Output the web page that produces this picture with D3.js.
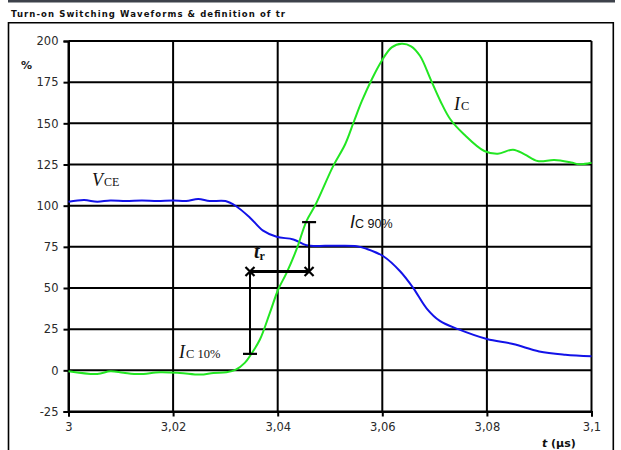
<!DOCTYPE html>
<html>
<head>
<meta charset="utf-8">
<script src="https://cdn.jsdelivr.net/npm/d3@7/dist/d3.min.js"></script>
<style>
  html, body { margin: 0; padding: 0; background: #fff; }
  svg { display: block; }
</style>
</head>
<body>
<svg id="chart" width="621" height="450"></svg>
<script>
// Time axis (µs) and the two normalized waveforms (% of nominal)
const xTicks = [3, 3.02, 3.04, 3.06, 3.08, 3.1];
const xTickLabels = ["3", "3,02", "3,04", "3,06", "3,08", "3,1"];
const yTicks = [-25, 0, 25, 50, 75, 100, 125, 150, 175, 200];
const yTickLabels = ["-25", "0", "25", "50", "75", "100", "125", "150", "175", "200"];

// Collector-emitter voltage V_CE
const vceTime = [3.000, 3.003, 3.0055, 3.008, 3.011, 3.014, 3.017, 3.020, 3.0225, 3.0248,
  3.027, 3.030, 3.032, 3.0347, 3.0372, 3.0398, 3.043, 3.0455, 3.0494, 3.0551,
  3.057, 3.0602, 3.0634, 3.0659, 3.0685, 3.071, 3.0745, 3.080, 3.085, 3.090, 3.095, 3.100];
const vceValue = [102.4, 103.4, 102.4, 103.2, 102.8, 103.2, 102.9, 103.2, 102.8, 104.0,
  102.8, 102.8, 99.8, 92.7, 84.8, 81.1, 79.5, 76.0, 75.6, 75.4,
  73.8, 69.3, 60.2, 50.1, 37.5, 30.0, 25.0, 19.0, 16.0, 11.5, 9.5, 8.5];

// Collector current I_C
const icTime = [3.000, 3.0055, 3.008, 3.0105, 3.0135, 3.0175, 3.0213, 3.0252, 3.0277, 3.0302,
  3.032, 3.0337, 3.035, 3.0366, 3.0385, 3.0401, 3.0417, 3.0436, 3.0455, 3.0473,
  3.0506, 3.0529, 3.0545, 3.0561, 3.058, 3.0599, 3.0618, 3.0637, 3.0655, 3.0672,
  3.0692, 3.0711, 3.073, 3.0756, 3.0795, 3.0821, 3.085, 3.0872, 3.0897, 3.0929,
  3.0961, 3.0977, 3.100];
const icValue = [-0.5, -2.2, -0.6, -1.5, -2.3, -1.2, -1.6, -2.6, -1.6, -1.2,
  0.4, 4.5, 10.2, 18.7, 34.9, 49.1, 59.2, 73.4, 90.6, 101.0,
  124.0, 137.3, 150.5, 163.6, 176.8, 188.0, 196.1, 198.3, 196.8, 191.0,
  177.0, 163.6, 152.5, 143.4, 133.2, 131.6, 134.0, 131.2, 127.1, 127.7,
  126.2, 125.1, 126.0];

// Rise-time construction: 10 % and 90 % crossings of I_C
const riseTimes = [3.0347, 3.046];
const riseLevels = [10, 90];
const riseBarLevel = 60;

const svg = d3.select("#chart");

const x = d3.scaleLinear().domain([3, 3.1]).range([68.5, 591.5]);
const y = d3.scaleLinear().domain([-25, 200]).range([411.5, 41]);

// Header band and outer frame
svg.append("rect").attr("x", 8).attr("y", 0).attr("width", 607).attr("height", 2.5).attr("fill", "#3d424b");
svg.append("text")
  .attr("x", 11).attr("y", 17)
  .attr("font-family", "DejaVu Sans, Verdana, sans-serif")
  .attr("font-weight", "bold").attr("font-size", 8.5)
  .attr("textLength", 274).attr("lengthAdjust", "spacing")
  .attr("fill", "#111")
  .text("Turn-on Switching Waveforms & definition of tr");
svg.append("path")
  .attr("d", "M8.5,452 V22.8 H613.3 V452")
  .attr("fill", "none").attr("stroke", "#000").attr("stroke-width", 1.6);

// Grid
const grid = svg.append("g").attr("stroke", "#000").attr("stroke-width", 2);
grid.selectAll("line.h").data(yTicks).join("line").attr("class", "h")
  .attr("x1", x(3)).attr("x2", x(3.1))
  .attr("y1", d => y(d)).attr("y2", d => y(d));
grid.selectAll("line.v").data(xTicks).join("line").attr("class", "v")
  .attr("y1", y(-25)).attr("y2", y(200))
  .attr("x1", d => x(d)).attr("x2", d => x(d));

// Axes
const axisFont = "DejaVu Sans, Verdana, sans-serif";
const yAxis = svg.append("g").attr("transform", `translate(${x(3)},0)`)
  .call(d3.axisLeft(y).tickValues(yTicks).tickSize(5).tickPadding(5)
    .tickFormat((d, i) => yTickLabels[i]));
const xAxis = svg.append("g").attr("transform", `translate(0,${y(-25)})`)
  .call(d3.axisBottom(x).tickValues(xTicks).tickSize(5).tickPadding(6)
    .tickFormat((d, i) => xTickLabels[i]));
[yAxis, xAxis].forEach(g => {
  g.select(".domain").attr("stroke", "#000").attr("stroke-width", 2);
  g.selectAll(".tick line").attr("stroke", "#000").attr("stroke-width", 2);
  g.selectAll(".tick text").attr("font-family", axisFont).attr("font-size", 11.5).attr("fill", "#2a2a2a");
});

svg.append("text").attr("x", 21).attr("y", 69)
  .attr("font-family", axisFont).attr("font-weight", "bold").attr("font-size", 11)
  .attr("fill", "#222").text("%");
const tLabel = svg.append("text").attr("x", 542).attr("y", 447)
  .attr("font-family", axisFont).attr("font-weight", "bold").attr("font-size", 11).attr("fill", "#111");
tLabel.append("tspan").attr("font-style", "italic").text("t");
tLabel.append("tspan").text(" (µs)");

// Waveforms
const line = d3.line().x(d => x(d[0])).y(d => y(d[1])).curve(d3.curveCatmullRom.alpha(0.5));
svg.append("path").datum(d3.zip(vceTime, vceValue))
  .attr("d", line).attr("fill", "none").attr("stroke", "#1212e8").attr("stroke-width", 2);
svg.append("path").datum(d3.zip(icTime, icValue))
  .attr("d", line).attr("fill", "none").attr("stroke", "#22e622").attr("stroke-width", 2);

// Rise-time markers
const ann = svg.append("g").attr("stroke", "#000").attr("fill", "none");
riseTimes.forEach((t, i) => {
  ann.append("line").attr("x1", x(t)).attr("x2", x(t))
    .attr("y1", y(riseLevels[i])).attr("y2", y(riseBarLevel)).attr("stroke-width", 2);
  ann.append("line").attr("x1", x(t) - 7).attr("x2", x(t) + 7)
    .attr("y1", y(riseLevels[i])).attr("y2", y(riseLevels[i])).attr("stroke-width", 2.2);
  const cx = x(t), cy = y(riseBarLevel), s = 4.5;
  ann.append("path").attr("d", `M${cx - s},${cy - s}L${cx + s},${cy + s}M${cx - s},${cy + s}L${cx + s},${cy - s}`)
    .attr("stroke-width", 2.2);
});
ann.append("line").attr("x1", x(riseTimes[0])).attr("x2", x(riseTimes[1]))
  .attr("y1", y(riseBarLevel)).attr("y2", y(riseBarLevel)).attr("stroke-width", 3);

// Curve labels
const serif = "Liberation Serif, Times New Roman, serif";
function label(px, py, main, sub, opts) {
  const t = svg.append("text").attr("x", px).attr("y", py)
    .attr("font-family", opts.family).attr("fill", "#111");
  t.append("tspan").attr("font-style", "italic").attr("font-weight", opts.bold ? "bold" : "normal")
    .attr("font-size", opts.main).text(main);
  t.append("tspan").attr("font-size", opts.sub).attr("font-weight", opts.bold ? "bold" : "normal")
    .attr("font-family", opts.subFamily || opts.family)
    .attr("dx", opts.dx || 0).attr("dy", opts.dy || 0).text(sub);
}
label(92, 186, "V", "CE", { family: serif, main: 18, sub: 12, dx: 1 });
label(454, 110, "I", "C", { family: serif, main: 18, sub: 12.5, dx: 1 });
label(179, 358, "I", "C 10%", { family: serif, main: 18, sub: 12.5, dx: 1 });
label(350, 228, "I", "C 90%", { family: "Liberation Sans, Arial, sans-serif", main: 18, sub: 12.5, dx: 0 });
label(254, 258, "t", "r", { family: serif, main: 20, sub: 12, bold: true, dy: 2 });
</script>
</body>
</html>
